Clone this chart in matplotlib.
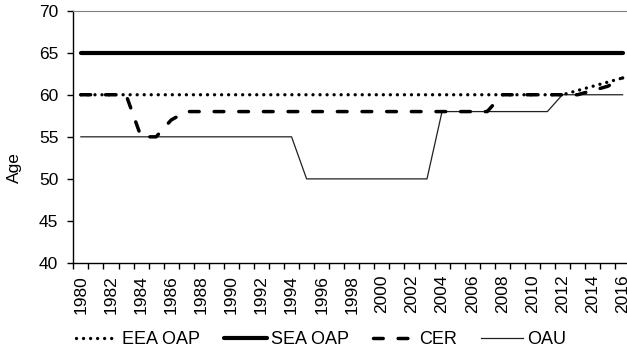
import matplotlib.pyplot as plt
import numpy as np

plt.rcParams['font.family'] = ['Liberation Sans', 'DejaVu Sans']

years = list(range(1980, 2017))

eea_oap = [60] * 33 + [60.5, 61, 61.5, 62]
sea_oap = [65] * 37
cer = [60, 60, 60, 60, 55, 55, 57] + [58] * 21 + [60] * 6 + [60.5, 61, 62]
oau = [55] * 15 + [50] * 9 + [58] * 8 + [60] * 5

x = np.arange(len(years))

fig = plt.figure(figsize=(6.27, 3.54), dpi=100)
ax = fig.add_axes([0.117, 0.257, 0.888, 0.713])

ax.plot(x, oau, color='#202020', lw=0.9, label='OAU')
ax.plot(x, sea_oap, color='black', lw=3.0, solid_capstyle='round', label='SEA OAP')
ax.plot(x, cer, color='black', lw=2.5, dashes=(2.8, 4.3), dash_capstyle='round', label='CER')
ax.plot(x, eea_oap, color='black', lw=2.4, dashes=(0.01, 2.1), dash_capstyle='round', label='EEA OAP')

ax.set_xlim(-0.5, len(years) - 0.5)
ax.set_ylim(40, 70)
ax.set_yticks(range(40, 71, 5))
ax.set_ylabel('Age', fontsize=12.5)
ax.yaxis.set_label_coords(-0.092, 0.38)

ax.set_xticks(x[::2])
ax.set_xticklabels([str(y) for y in years[::2]], rotation=90)
ax.set_xticks(np.arange(-0.5, len(years), 1), minor=True)
ax.tick_params(axis='x', which='major', length=0, labelsize=12.5, pad=8.5)
ax.tick_params(axis='x', which='minor', length=4, width=1, color='black')
ax.tick_params(axis='y', length=4.3, width=1, labelsize=12.5, pad=6.5)

ax.spines['right'].set_visible(False)
ax.spines['top'].set_color('#808080')
ax.spines['left'].set_linewidth(1)
ax.spines['bottom'].set_linewidth(1)

handles, labels = ax.get_legend_handles_labels()
order = [3, 1, 2, 0]
fig.legend([handles[i] for i in order], [labels[i] for i in order],
           loc='center', bbox_to_anchor=(0.512, 0.04), ncol=4, frameon=False,
           fontsize=13, handlelength=2.35, columnspacing=1.33, handletextpad=0.22)

fig.savefig('out.png', dpi=100)
